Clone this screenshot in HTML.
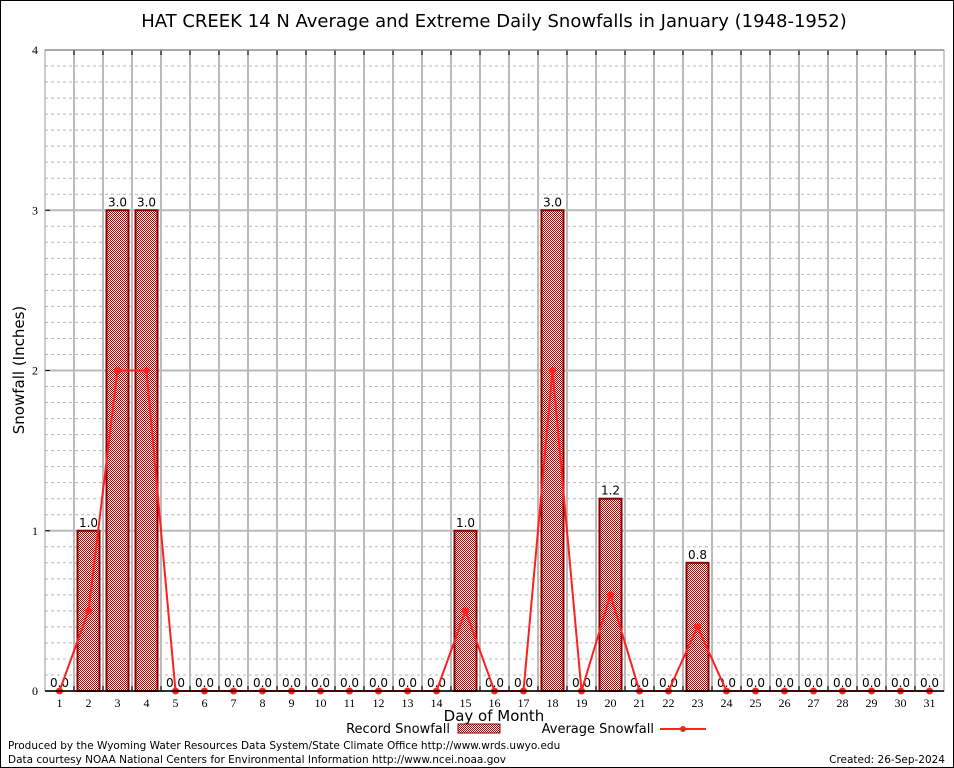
<!DOCTYPE html>
<html><head><meta charset="utf-8"><style>
body{margin:0;background:#fff}
svg{display:block;font-family:"DejaVu Sans","Liberation Sans",sans-serif}
</style></head><body>
<svg width="954" height="768" viewBox="0 0 954 768">
<defs>
<pattern id="chk" width="2" height="2" patternUnits="userSpaceOnUse">
<rect width="2" height="2" fill="#fff"/><rect width="1" height="1" fill="#c00000"/><rect x="1" y="1" width="1" height="1" fill="#c00000"/>
</pattern>
</defs>
<rect x="0.5" y="0.5" width="953" height="767" fill="#fff" stroke="#000"/>
<text x="494" y="27" font-size="18" text-anchor="middle">HAT CREEK 14 N Average and Extreme Daily Snowfalls in January (1948-1952)</text>
<g id="grid"></g>
<g id="bars"></g>
<g id="avg"></g>
<g id="axes"></g>
<text transform="translate(24,370) rotate(-90)" font-size="15" text-anchor="middle">Snowfall (Inches)</text>
<text x="494" y="721" font-size="15" text-anchor="middle">Day of Month</text>
<g>
<text x="450" y="733" font-size="13" text-anchor="end">Record Snowfall</text>
<rect x="458" y="724" width="42" height="9" fill="url(#chk)" stroke="#8b0000"/>
<text x="654" y="733" font-size="13" text-anchor="end">Average Snowfall</text>
<line x1="660" y1="729" x2="706" y2="729" stroke="#ff2020" stroke-width="2"/>
<circle cx="683" cy="729" r="3" fill="#ff2020"/>
</g>
<text x="8" y="749" font-size="10.5">Produced by the Wyoming Water Resources Data System/State Climate Office http://www.wrds.uwyo.edu</text>
<text x="8" y="763" font-size="10.5">Data courtesy NOAA National Centers for Environmental Information http://www.ncei.noaa.gov</text>
<text x="945" y="763" font-size="10.5" text-anchor="end">Created:  26-Sep-2024</text>
</svg>
<script>
const days=[1,2,3,4,5,6,7,8,9,10,11,12,13,14,15,16,17,18,19,20,21,22,23,24,25,26,27,28,29,30,31];
const recordValues=[0,1.0,3.0,3.0,0,0,0,0,0,0,0,0,0,0,1.0,0,0,3.0,0,1.2,0,0,0.8,0,0,0,0,0,0,0,0];
const averageValues=[0,0.5,2.0,2.0,0,0,0,0,0,0,0,0,0,0,0.5,0,0,2.0,0,0.6,0,0,0.4,0,0,0,0,0,0,0,0];
const yTicks=[0,1,2,3,4];
const NS='http://www.w3.org/2000/svg';
const L=45,R=944,T=50,B=691,YMAX=4;
const bw=(R-L)/days.length;
const xs=d=>L+(d-0.5)*bw;
const ys=v=>B-(v/YMAX)*(B-T);
function mk(tag,at,parent){const e=document.createElementNS(NS,tag);for(const k in at)e.setAttribute(k,at[k]);parent.appendChild(e);return e;}
const grid=document.getElementById('grid'),bars=document.getElementById('bars'),avg=document.getElementById('avg'),axes=document.getElementById('axes');
for(let v=0;v<=YMAX*10;v++){if(v%10===0)continue;
 const g=mk('line',{x1:L,x2:R,y1:ys(v/10),y2:ys(v/10),stroke:'#b8b8b8','stroke-dasharray':'3,3'},grid);
 
 }
yTicks.forEach(t=>{
 const g=mk('line',{x1:L,x2:R,y1:ys(t),y2:ys(t),stroke:'#bbb','stroke-width':2},grid);
 
 
 const tx=mk('text',{x:L-7,y:ys(t)+4,'font-size':12,'text-anchor':'end','font-family':'Liberation Serif, serif'},axes);tx.textContent=t;
 
 
 const tk=mk('line',{x1:L,x2:L+5,y1:ys(t),y2:ys(t),stroke:'#000'},axes);
 
 
});
for(let i=1;i<days.length;i++){
 const x=L+i*bw;
 const g=mk('line',{x1:x,x2:x,y1:T,y2:B,stroke:'#bbb','stroke-width':2},grid);
 
 
 const tk=mk('line',{x1:x,x2:x,y1:T,y2:T+5,stroke:'#000'},axes);
 
 
 const tb=mk('line',{x1:x,x2:x,y1:B,y2:B-5,stroke:'#000'},axes);
 
 
}
const fr=mk('rect',{x:L,y:T,width:R-L,height:B-T,fill:'none',stroke:'#999'},axes);


const bl=mk('line',{x1:L,x2:R,y1:B,y2:B,stroke:'#000','stroke-width':1.5},axes);


days.forEach((d,i)=>{
 const v=recordValues[i];
 if(v>0){const r=mk('rect',{x:xs(d)-11,y:ys(v),width:22,height:B-ys(v),fill:'url(#chk)',stroke:'#8b0000','stroke-width':2},bars);
  
  }
 const lb=mk('text',{x:xs(d),y:ys(v)-4,'font-size':12,'text-anchor':'middle'},bars);lb.textContent=v.toFixed(1);
 
 
 const xl=mk('text',{x:xs(d),y:B+16,'font-size':12,'text-anchor':'middle','font-family':'Liberation Serif, serif'},axes);xl.textContent=d;
 
 
});
const pl=mk('polyline',{points:days.map((d,i)=>xs(d)+','+ys(averageValues[i])).join(' '),fill:'none',stroke:'#ff2020','stroke-width':2},avg);


days.forEach((d,i)=>{
 const c=mk('circle',{cx:xs(d),cy:ys(averageValues[i]),r:3.5,fill:'#ff2020'},avg);
 
 
});
</script>
</body></html>
